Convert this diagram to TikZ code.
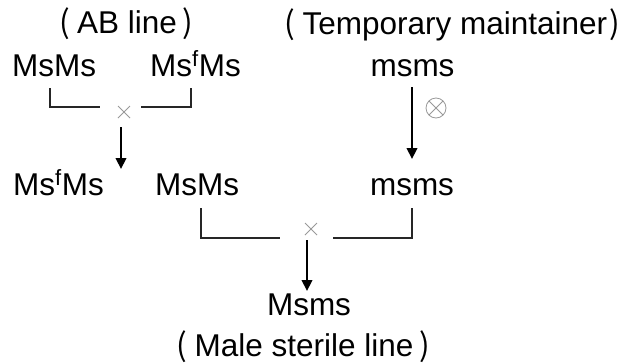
\documentclass[tikz,border=0pt]{standalone}
\usepackage{fontspec}
\setmainfont{Liberation Sans}
\newfontfamily\cjkparen{Noto Sans CJK SC}
\newcommand{\lpar}{{\cjkparen (}\kern7pt}
\newcommand{\rpar}{\kern6pt{\cjkparen )}}
\usetikzlibrary{arrows.meta}
\begin{document}
\begin{tikzpicture}[x=1pt,y=-1pt,
  lbl/.style={inner sep=0pt, anchor=base, font=\fontsize{31.5}{36}\selectfont},
  bracket/.style={line width=1.3pt, black!85},
  crossmark/.style={line width=0.8pt, black!40},
  arr/.style={line width=2.2pt, black, -{Triangle[length=11pt,width=10.5pt]}}]
\useasboundingbox (0,0) rectangle (623,362);
% texts
\node[lbl] (ab) at (126.5,33) {\lpar AB line\rpar};
\node[lbl, anchor=base east] (tm) at (620,34) {\lpar Temporary maintainer\kern2pt{\cjkparen )}};
\node[lbl, anchor=base west] (p1) at (12,76) {MsMs};
\node[lbl, anchor=base west] (p2) at (150,76) {Ms\textsuperscript{f}Ms};
\node[lbl] (p3) at (412.5,76) {msms};
\node[lbl, anchor=base west] (f1) at (13,195) {Ms\textsuperscript{f}Ms};
\node[lbl, anchor=base west] (f2) at (155,195) {MsMs};
\node[lbl] (f3) at (412,195) {msms};
\node[lbl] (ms) at (309,315) {Msms};
\node[lbl] (msl) at (303.5,356) {\lpar Male sterile line\rpar};
% first cross
\coordinate (b1l) at (50,88);  \coordinate (b1le) at (100,107);
\coordinate (b1r) at (191,88); \coordinate (b1re) at (141,107);
\draw[bracket] (b1l) |- (b1le);
\draw[bracket] (b1r) |- (b1re);
\coordinate (x1) at (124,112);
\draw[crossmark] ([shift={(-6,-6)}]x1) -- ([shift={(6,6)}]x1)
                 ([shift={(-6,6)}]x1) -- ([shift={(6,-6)}]x1);
\coordinate (a1s) at (121,127); \coordinate (a1e) at (121,169);
\draw[arr] (a1s) -- (a1e);
% selfing
\coordinate (a2s) at (412,87); \coordinate (a2e) at (412,159);
\draw[arr] (a2s) -- (a2e);
\coordinate (ot) at (436,108);
\draw[crossmark] (ot) circle (10)
  ([shift={(-7.07,-7.07)}]ot) -- ([shift={(7.07,7.07)}]ot)
  ([shift={(-7.07,7.07)}]ot) -- ([shift={(7.07,-7.07)}]ot);
% second cross
\coordinate (b2l) at (201,208); \coordinate (b2le) at (280,238);
\coordinate (b2r) at (412,208); \coordinate (b2re) at (333,238);
\draw[bracket] (b2l) |- (b2le);
\draw[bracket] (b2r) |- (b2re);
\coordinate (x2) at (311,229);
\draw[crossmark] ([shift={(-6,-6)}]x2) -- ([shift={(6,6)}]x2)
                 ([shift={(-6,6)}]x2) -- ([shift={(6,-6)}]x2);
\coordinate (a3s) at (307,240); \coordinate (a3e) at (307,291);
\draw[arr] (a3s) -- (a3e);
\end{tikzpicture}
\end{document}
